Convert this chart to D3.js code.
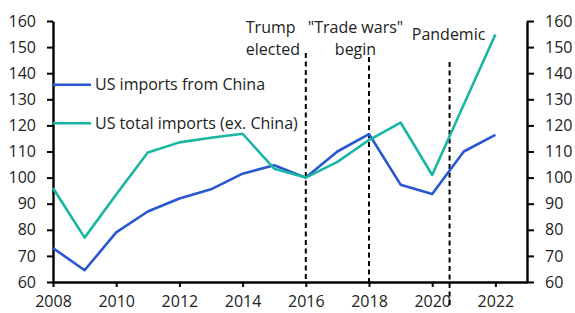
<!DOCTYPE html>
<html>
<head>
<meta charset="utf-8">
<script src="https://cdn.jsdelivr.net/npm/d3@7"></script>
<style>
  body { margin: 0; background: #fff; }
  svg { display: block; font-family: "Open Sans", sans-serif; }
</style>
</head>
<body>
<div id="chart"></div>
<script>
const years = [2008, 2009, 2010, 2011, 2012, 2013, 2014, 2015, 2016, 2017, 2018, 2019, 2020, 2021, 2022];
const chinaImports = [73, 64.5, 79, 87, 92, 95.5, 101.5, 104.7, 100, 110, 116.7, 97.3, 93.7, 110, 116.4];
const totalImportsExChina = [96, 77, 93.5, 109.6, 113.5, 115.3, 116.8, 103.4, 100, 106, 114.4, 121.1, 101, 128, 154.8];
const seriesNames = ["US imports from China", "US total imports (ex. China)"];
const yTicks = [60, 70, 80, 90, 100, 110, 120, 130, 140, 150, 160];
const xTicks = [2008, 2010, 2012, 2014, 2016, 2018, 2020, 2022];
const eventYears = [2016, 2018, 2020.55];
const eventLabels = [["Trump", "elected"], ["\"Trade wars\"", "begin"], ["Pandemic"]];

const width = 575, height = 313;
const pad = { l: 53, r: 48, t: 21, b: 31 };
const colors = ["#2957d1", "#19b5a5"];

const svg = d3.select("#chart").append("svg").attr("width", width).attr("height", height);

const x = d3.scaleLinear().domain([2008, 2023]).range([pad.l, width - pad.r]);
const y = d3.scaleLinear().domain([60, 160]).range([height - pad.b, pad.t]);

// axes
const styleAxis = (g) => {
  g.select(".domain").attr("stroke", "#000").attr("stroke-width", 2.4);
  g.selectAll(".tick line").attr("stroke", "#000").attr("stroke-width", 2);
  g.selectAll("text").attr("font-size", 16).attr("fill", "#222").attr("font-family", "Open Sans, sans-serif");
};

svg.append("g")
  .attr("transform", `translate(${pad.l},0)`)
  .call(d3.axisLeft(y).tickValues(yTicks).tickSize(6).tickPadding(11).tickSizeOuter(0))
  .call(styleAxis);

svg.append("g")
  .attr("transform", `translate(${width - pad.r},0)`)
  .call(d3.axisRight(y).tickValues(yTicks).tickSize(7).tickPadding(11).tickSizeOuter(0))
  .call(styleAxis);

svg.append("g")
  .attr("transform", `translate(0,${height - pad.b})`)
  .call(d3.axisBottom(x).tickValues(xTicks).tickFormat(d3.format("d")).tickSize(5).tickPadding(9).tickSizeOuter(0))
  .call(styleAxis);

// event lines
const evTop = [53, 57, 62];
const evBottom = [height - pad.b, height - pad.b, 307];
svg.selectAll(".event")
  .data(eventYears)
  .join("line")
  .attr("class", "event")
  .attr("x1", (d) => x(d))
  .attr("x2", (d) => x(d))
  .attr("y1", (d, i) => evTop[i])
  .attr("y2", (d, i) => evBottom[i])
  .attr("stroke", "#000")
  .attr("stroke-width", 2)
  .attr("stroke-dasharray", "5,3.5");

// event labels
const labelPos = [
  { dx: -60, anchor: "start", y0: 33 },
  { dx: -13.5, anchor: "middle", y0: 33 },
  { dx: -1, anchor: "middle", y0: 40 },
];
eventLabels.forEach((lines, i) => {
  const p = labelPos[i];
  const t = svg.append("text")
    .attr("font-size", 16)
    .attr("fill", "#222")
    .attr("text-anchor", p.anchor);
  lines.forEach((s, j) => {
    t.append("tspan")
      .attr("x", x(eventYears[i]) + p.dx)
      .attr("y", p.y0 + j * 22)
      .text(s);
  });
});

// series
const line = d3.line().x((d) => x(d[0])).y((d) => y(d[1]));
[chinaImports, totalImportsExChina].forEach((vals, i) => {
  svg.append("path")
    .datum(years.map((yr, k) => [yr, vals[k]]))
    .attr("fill", "none")
    .attr("stroke", colors[i])
    .attr("stroke-width", 2.6)
    .attr("stroke-linejoin", "round")
    .attr("d", line);
});

// legend
const legendY = [135.6, 120.8];
const legend = svg.selectAll(".legend")
  .data(seriesNames)
  .join("g")
  .attr("class", "legend")
  .attr("transform", (d, i) => `translate(${pad.l},${y(legendY[i])})`);
legend.append("line")
  .attr("x1", 0).attr("x2", 38)
  .attr("stroke", (d, i) => colors[i])
  .attr("stroke-width", 2.6);
legend.append("text")
  .attr("x", 42)
  .attr("dy", "0.35em")
  .attr("font-size", 16)
  .attr("fill", "#222")
  .text((d) => d);
</script>
</body>
</html>
